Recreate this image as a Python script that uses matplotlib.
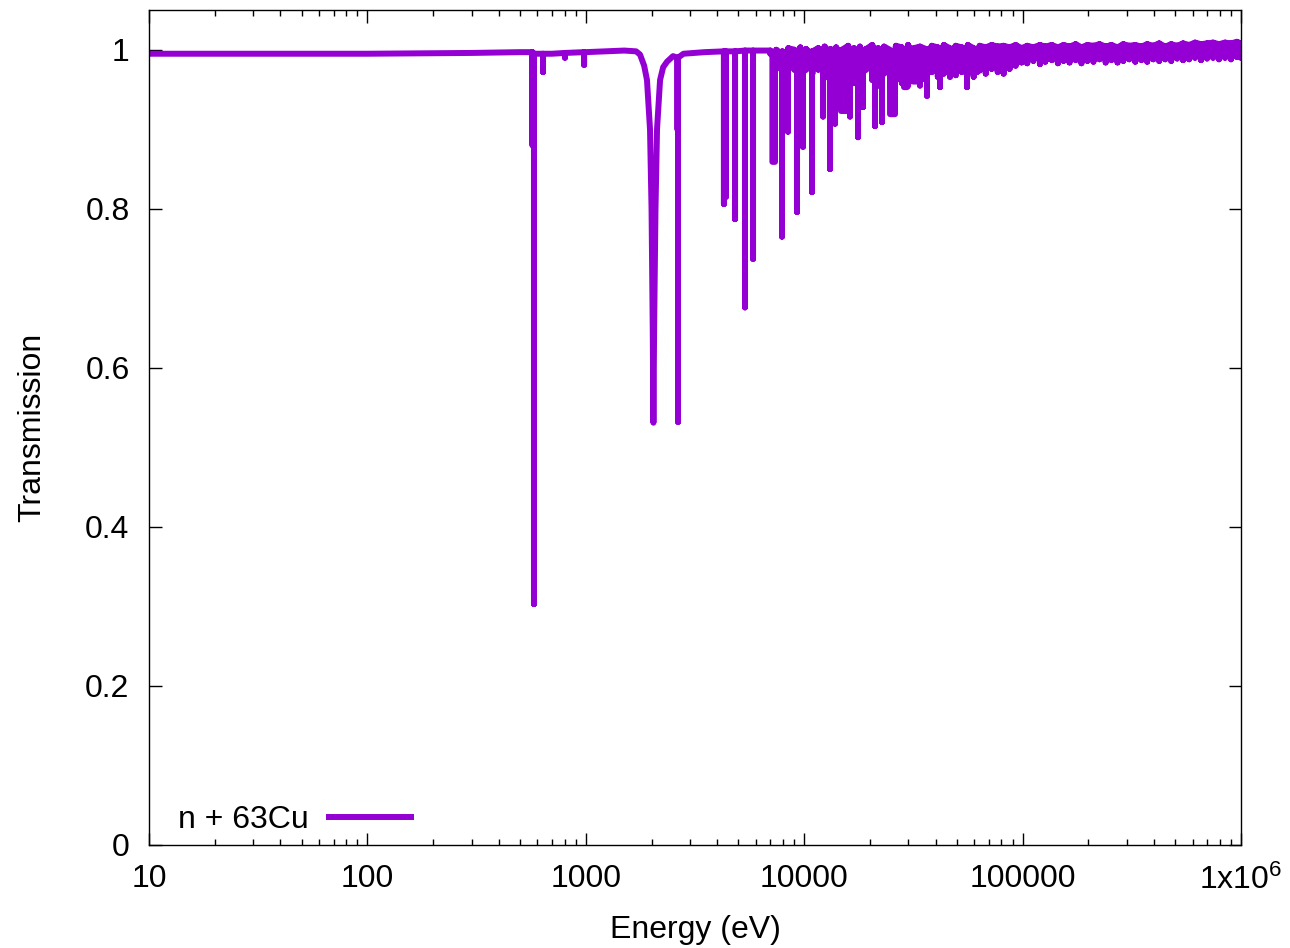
import matplotlib
matplotlib.use('Agg')
import matplotlib.pyplot as plt
from matplotlib.ticker import FixedLocator, FixedFormatter, LogLocator, NullFormatter

plt.rcParams['font.family'] = ['Liberation Sans', 'DejaVu Sans']
plt.rcParams['mathtext.default'] = 'regular'

# smooth part of the transmission curve (energy in eV)
base_E = [10, 100, 300, 500, 560, 600, 700, 1000, 1500, 1700, 1771, 1850, 1906, 1968, 2000,
          2025, 2040, 2055, 2085, 2119, 2188, 2260, 2355, 2508, 2800, 3500, 4500, 6000, 6800]
base_T = [0.995, 0.995, 0.996, 0.997, 0.997, 0.995, 0.995, 0.997, 0.999, 0.998, 0.994, 0.980, 0.962, 0.900, 0.800,
          0.650, 0.531, 0.650, 0.800, 0.900, 0.962, 0.978, 0.985, 0.992, 0.995, 0.997, 0.998, 0.999, 0.999]

# resonances: start and end energy of the dip bottom, level above the dip, dip minimum
res_E1 = [570, 579, 637, 803, 982, 2630, 2644, 4290, 4380, 4823, 5357, 5831,
          7150, 7913, 8430, 9270, 9874, 10860, 12200, 13130, 13840, 14740, 16210,
          17640, 18590, 21100, 22710, 24720, 28640, 31500, 36500, 41860, 46510, 55660, 61830]
res_E2 = [570, 579, 637, 803, 982, 2630, 2644, 4290, 4380, 4823, 5357, 5831,
          7352, 7913, 8430, 9270, 9874, 10860, 12200, 13130, 13840, 15700, 16210,
          17640, 18590, 21100, 22710, 26050, 29570, 33550, 36500, 41860, 46510, 55660, 61830]
res_top = [0.997, 0.995, 0.995, 0.996, 0.997, 0.990, 0.990, 0.998, 0.998, 0.998, 0.999, 0.999,
           0.995, 0.995, 0.995, 0.995, 0.995, 0.995, 0.995, 0.995, 0.995, 0.995, 0.995,
           0.995, 0.995, 0.995, 0.995, 0.995, 0.995, 0.995, 0.995, 0.995, 0.995, 0.995, 0.995]
res_min = [0.880, 0.303, 0.972, 0.990, 0.981, 0.900, 0.532, 0.806, 0.815, 0.787, 0.676, 0.737,
           0.859, 0.765, 0.897, 0.796, 0.878, 0.821, 0.916, 0.850, 0.907, 0.923, 0.916,
           0.890, 0.928, 0.904, 0.909, 0.919, 0.953, 0.960, 0.942, 0.953, 0.966, 0.953, 0.972]

# unresolved fluctuations at high energy: energy, upper and lower value
band_E = [7000, 7450, 7940, 8460, 9010, 9600, 10200, 10900, 11600, 12400, 13200, 14000,
          14900, 15900, 16900, 18000, 19200, 20500, 21800, 23200, 24700, 26300, 28000,
          29900, 31800, 33900, 36100, 38400, 40900, 43600, 46400, 49400, 52700, 56100,
          59700, 63600, 67800, 72200, 76900, 81900, 87200, 92900, 98900, 105000, 112000,
          120000, 127000, 136000, 145000, 154000, 164000, 175000, 186000, 198000, 211000,
          225000, 240000, 255000, 272000, 289000, 308000, 328000, 350000, 372000, 397000,
          422000, 450000, 479000, 510000, 543000, 579000, 616000, 656000, 699000, 745000,
          793000, 845000, 900000, 958000, 1000000]
band_hi = [0.999, 1.000, 0.998, 1.002, 1.000, 1.003, 1.001, 0.998, 1.002, 1.004, 1.001, 1.003,
           1.000, 1.005, 1.002, 1.004, 1.001, 1.006, 1.002, 1.004, 1.000, 1.005, 1.003,
           1.006, 1.002, 1.004, 1.001, 1.005, 1.003, 1.006, 1.002, 1.005, 1.003, 1.006,
           1.002, 1.005, 1.003, 1.006, 1.004, 1.005, 1.003, 1.006, 1.002, 1.005, 1.003,
           1.006, 1.004, 1.006, 1.003, 1.006, 1.004, 1.007, 1.003, 1.006, 1.005,
           1.007, 1.004, 1.006, 1.003, 1.007, 1.005, 1.006, 1.004, 1.007, 1.005,
           1.008, 1.004, 1.007, 1.005, 1.008, 1.006, 1.009, 1.007, 1.008, 1.009,
           1.007, 1.009, 1.008, 1.010, 1.008]
band_lo = [0.995, 0.976, 0.975, 0.980, 0.975, 0.978, 0.975, 0.970, 0.975, 0.965, 0.960, 0.972,
           0.955, 0.968, 0.958, 0.965, 0.975, 0.962, 0.955, 0.970, 0.950, 0.962, 0.958,
           0.955, 0.968, 0.955, 0.962, 0.972, 0.966, 0.970, 0.975, 0.968, 0.972, 0.970,
           0.966, 0.974, 0.970, 0.976, 0.972, 0.970, 0.976, 0.980, 0.984, 0.983, 0.986,
           0.982, 0.985, 0.987, 0.983, 0.986, 0.984, 0.987, 0.983, 0.986, 0.985,
           0.988, 0.984, 0.987, 0.984, 0.986, 0.988, 0.985, 0.987, 0.985, 0.988,
           0.986, 0.988, 0.986, 0.989, 0.987, 0.988, 0.990, 0.987, 0.989, 0.990,
           0.988, 0.990, 0.988, 0.991, 0.990]

xticks = [10, 100, 1000, 10000, 100000, 1000000]
xtick_labels = ['10', '100', '1000', '10000', '100000', '1x10$^{6}$']
yticks = [0, 0.2, 0.4, 0.6, 0.8, 1]
ytick_labels = ['0', '0.2', '0.4', '0.6', '0.8', '1']

color = '#9400D3'

# merge everything into one line: (start energy, end energy, upper, lower)
rows = [(e, e, t, t) for e, t in zip(base_E, base_T)]
rows += list(zip(res_E1, res_E2, res_top, res_min))
rows += [(e, e, hi, lo) for e, hi, lo in zip(band_E, band_hi, band_lo)]
rows.sort(key=lambda r: r[0])
xs, ys = [], []
for e1, e2, hi, lo in rows:
    if hi == lo:
        xs.append(e1)
        ys.append(hi)
    else:
        xs += [e1, e1, e2, e2]
        ys += [hi, lo, lo, hi]

fig = plt.figure(figsize=(12.9, 9.48), dpi=100)
ax = fig.add_axes([149 / 1290, 1 - 845 / 948, 1092 / 1290, 835 / 948])
# the fluctuations are so dense that the line fills the band between them
ax.fill_between(band_E, band_lo, band_hi, step='mid', color=color, lw=0)
ax.plot(xs, ys, color=color, lw=4.3, label='n + 63Cu')

ax.set_xscale('log')
ax.set_xlim(10, 1e6)
ax.set_ylim(0, 1.05)
ax.xaxis.set_major_locator(FixedLocator(xticks))
ax.xaxis.set_major_formatter(FixedFormatter(xtick_labels))
ax.xaxis.set_minor_locator(LogLocator(base=10, subs=range(2, 10)))
ax.xaxis.set_minor_formatter(NullFormatter())
ax.set_yticks(yticks)
ax.set_yticklabels(ytick_labels)
ax.tick_params(which='both', direction='in', top=True, right=True, labelsize=23, width=1.0)
ax.tick_params(which='major', length=9)
ax.tick_params(which='minor', length=4.5)
ax.tick_params(axis='x', pad=14)
ax.tick_params(axis='y', pad=14)
for s in ax.spines.values():
    s.set_linewidth(1.0)

ax.set_xlabel('Energy (eV)', fontsize=23, labelpad=14)
ax.set_ylabel('Transmission', fontsize=23, labelpad=27)

ax.legend(loc='lower left', bbox_to_anchor=(0.027, 0.012), markerfirst=False, frameon=False,
          fontsize=23, handlelength=2.56, handletextpad=0.62, borderpad=0, borderaxespad=0)

plt.savefig('out.png', dpi=100)
